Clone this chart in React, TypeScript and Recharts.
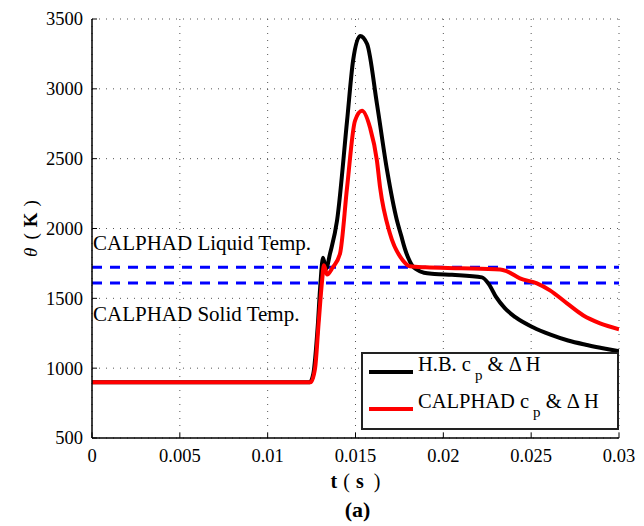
import { LineChart, Line, XAxis, YAxis, CartesianGrid, ReferenceLine, Legend } from 'recharts';

const SERIF = '"Liberation Serif", "Times New Roman", serif';

// H.B. c_p & dH curve
const hbTime = [0, 0.0124, 0.0126, 0.01285, 0.013, 0.01315, 0.01332, 0.01355, 0.01395, 0.01452, 0.01486, 0.01526, 0.01566, 0.01622, 0.0168, 0.01736, 0.0176, 0.0178, 0.018, 0.0182, 0.0185, 0.0189, 0.0195, 0.0205, 0.0222, 0.0226, 0.023, 0.0235, 0.0241, 0.0251, 0.0261, 0.0271, 0.0281, 0.029, 0.03];
const hbTemp = [900, 900, 960, 1300, 1600, 1790, 1710, 1820, 2057, 2771, 3200, 3379, 3321, 2893, 2414, 2057, 1950, 1860, 1790, 1740, 1705, 1683, 1675, 1668, 1650, 1600, 1510, 1430, 1365, 1293, 1240, 1198, 1168, 1145, 1121];

// CALPHAD c_p & dH curve
const calTime = [0, 0.01245, 0.0127, 0.0129, 0.0131, 0.0132, 0.01338, 0.0137, 0.01412, 0.01452, 0.01497, 0.01537, 0.01583, 0.01622, 0.0164, 0.01696, 0.0177, 0.0181, 0.019, 0.021, 0.02323, 0.02363, 0.02436, 0.02533, 0.02607, 0.02704, 0.02795, 0.02892, 0.03];
const calTemp = [900, 900, 1000, 1321, 1629, 1736, 1670, 1721, 1821, 2293, 2771, 2843, 2721, 2486, 2293, 1964, 1771, 1729, 1722, 1716, 1707, 1693, 1643, 1607, 1557, 1464, 1379, 1321, 1279];

const xTicks = [0, 0.005, 0.01, 0.015, 0.02, 0.025, 0.03];
const yTicks = [500, 1000, 1500, 2000, 2500, 3000, 3500];

const liquidTemp = 1723;
const solidTemp = 1609;

const hbData = hbTime.map((t, i) => ({ t, v: hbTemp[i] }));
const calData = calTime.map((t, i) => ({ t, v: calTemp[i] }));

const BottomTick = ({ x, y, payload }: any) => (
  <g>
    <line x1={x} y1={y} x2={x} y2={y - 5} stroke="#000" />
    <text x={x} y={y + 24} textAnchor="middle" fontSize={18.5} style={{ fontFamily: SERIF }} fill="#000">
      {String(payload.value)}
    </text>
  </g>
);

const LeftTick = ({ x, y, payload }: any) => (
  <g>
    <line x1={x} y1={y} x2={x + 5} y2={y} stroke="#000" />
    <text x={x - 9} y={y} dy="0.35em" textAnchor="end" fontSize={18.5} style={{ fontFamily: SERIF }} fill="#000">
      {String(payload.value)}
    </text>
  </g>
);

const TopTick = ({ x, y }: any) => <line x1={x} y1={y} x2={x} y2={y + 5} stroke="#000" />;
const RightTick = ({ x, y }: any) => <line x1={x} y1={y} x2={x - 5} y2={y} stroke="#000" />;

const XLabel = ({ viewBox }: any) => {
  const cx = viewBox.x + viewBox.width / 2;
  return (
    <g style={{ fontFamily: SERIF }} fill="#000">
      <text x={cx} y={viewBox.y + 50} textAnchor="middle" fontSize={20}>
        <tspan fontWeight="bold">t</tspan>
        <tspan dx={6}>(</tspan>
        <tspan dx={6} fontWeight="bold">s</tspan>
        <tspan dx={10}>)</tspan>
      </text>
      <text x={cx + 2} y={viewBox.y + 79} textAnchor="middle" fontSize={22} fontWeight="bold">(a)</text>
    </g>
  );
};

const YLabel = ({ viewBox }: any) => {
  const cx = viewBox.x - 2;
  const cy = viewBox.y + viewBox.height / 2;
  return (
    <text x={cx} y={cy} transform={`rotate(-90 ${cx} ${cy})`} textAnchor="middle" dy="0.35em"
      fontSize={19} style={{ fontFamily: SERIF }} fill="#000">
      <tspan fontStyle="italic">θ</tspan>
      <tspan dx={8}>(</tspan>
      <tspan dx={6} fontWeight="bold">K</tspan>
      <tspan dx={6}>)</tspan>
    </text>
  );
};

const LiquidLabel = ({ viewBox }: any) => (
  <text x={viewBox.x + 1} y={viewBox.y - 17} fontSize={21} style={{ fontFamily: SERIF }} fill="#000">
    CALPHAD Liquid Temp.
  </text>
);

const SolidLabel = ({ viewBox }: any) => (
  <text x={viewBox.x + 1} y={viewBox.y + 38} fontSize={21} style={{ fontFamily: SERIF }} fill="#000">
    CALPHAD Solid Temp.
  </text>
);

const legendItems = [
  { name: 'H.B. c', color: '#000000' },
  { name: 'CALPHAD c', color: '#ff0000' },
];

const LegendBox = () => (
  <svg width={258} height={78} style={{ display: 'block' }}>
    <rect x={1} y={1} width={256} height={76} fill="#fff" stroke="#222" strokeWidth={2} />
    {legendItems.map((item, i) => (
      <g key={item.name}>
        <line x1={8} y1={20 + i * 37} x2={52} y2={20 + i * 37} stroke={item.color} strokeWidth={4} />
        <text x={57} y={19 + i * 37} fontSize={20.5} style={{ fontFamily: SERIF }} fill="#000">
          {item.name}
          <tspan dx={4} dy={9} fontSize={15}>p</tspan>
          <tspan dy={-9}> &amp; Δ H</tspan>
        </text>
      </g>
    ))}
  </svg>
);

export default function App() {
  return (
    <div style={{ position: 'absolute', left: 0, top: 0, background: '#fff' }}>
      <LineChart width={644} height={526} margin={{ top: 19, right: 25, left: 32, bottom: 48 }}>
        <CartesianGrid stroke="#555" strokeDasharray="1 6" />
        <XAxis
          dataKey="t"
          type="number"
          domain={[0, 0.03]}
          ticks={xTicks}
          allowDataOverflow
          height={40}
          tickSize={0}
          tickMargin={0}
          tickLine={false}
          axisLine={{ stroke: '#000', strokeWidth: 1.5 }}
          tick={BottomTick}
          label={{ content: XLabel }}
        />
        <XAxis
          xAxisId="top"
          orientation="top"
          type="number"
          domain={[0, 0.03]}
          ticks={xTicks}
          allowDataOverflow
          height={0}
          tickSize={0}
          tickMargin={0}
          tickLine={false}
          axisLine={{ stroke: '#000', strokeWidth: 1.5 }}
          tick={TopTick}
        />
        <YAxis
          type="number"
          domain={[500, 3500]}
          ticks={yTicks}
          allowDataOverflow
          width={60}
          tickSize={0}
          tickMargin={0}
          tickLine={false}
          axisLine={{ stroke: '#000', strokeWidth: 1.5 }}
          tick={LeftTick}
          label={{ content: YLabel }}
        />
        <YAxis
          yAxisId="right"
          orientation="right"
          type="number"
          domain={[500, 3500]}
          ticks={yTicks}
          allowDataOverflow
          width={0}
          tickSize={0}
          tickMargin={0}
          tickLine={false}
          axisLine={{ stroke: '#000', strokeWidth: 1.5 }}
          tick={RightTick}
        />
        <ReferenceLine y={liquidTemp} stroke="#0000ff" strokeWidth={3} strokeDasharray="10 8" label={{ content: LiquidLabel }} />
        <ReferenceLine y={solidTemp} stroke="#0000ff" strokeWidth={3} strokeDasharray="10 8" label={{ content: SolidLabel }} />
        <Line data={hbData} dataKey="v" type="monotone" stroke="#000" strokeWidth={4} dot={false} isAnimationActive={false} />
        <Line data={calData} dataKey="v" type="monotone" stroke="#ff0000" strokeWidth={4} dot={false} isAnimationActive={false} />
        <Legend
          layout="vertical"
          align="center"
          verticalAlign="middle"
          content={LegendBox}
          wrapperStyle={{ left: 361, top: 352, width: 258, height: 78 }}
        />
      </LineChart>
    </div>
  );
}
